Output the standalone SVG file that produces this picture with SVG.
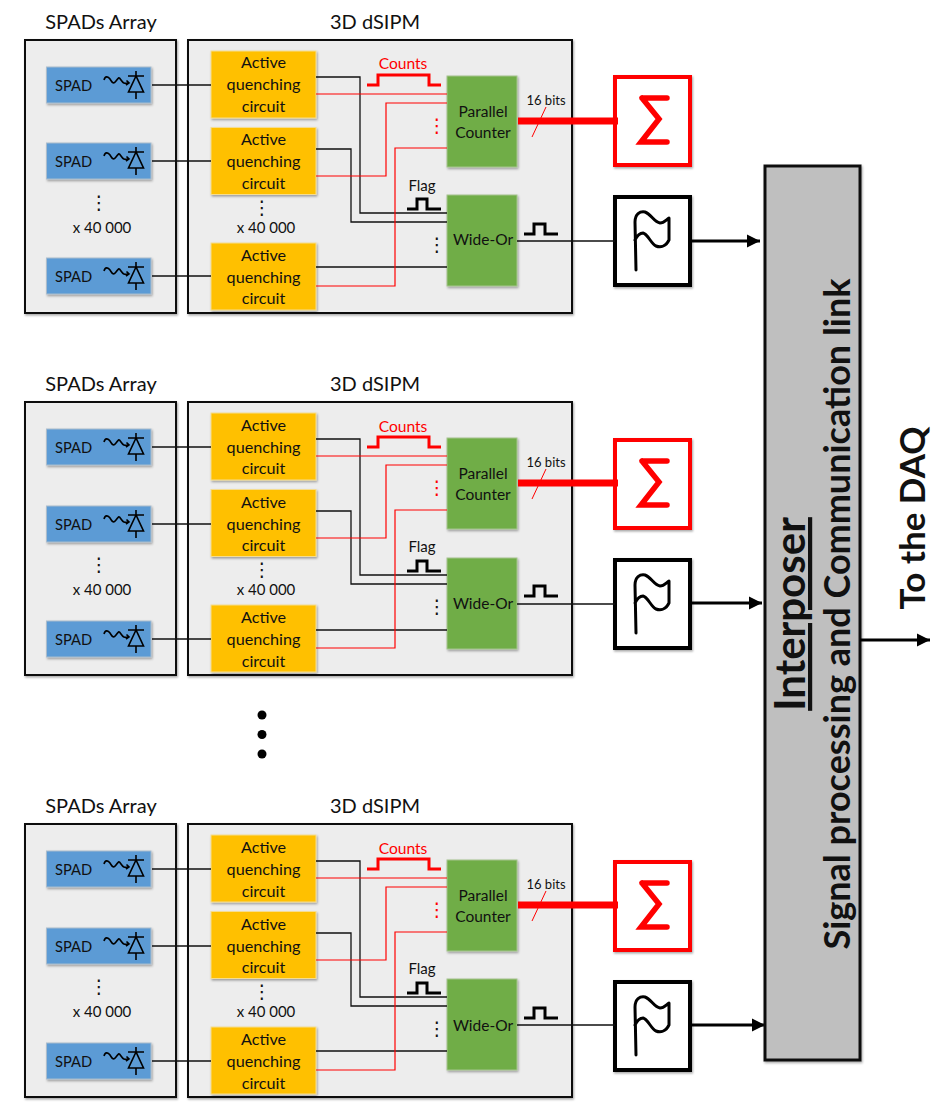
<svg xmlns="http://www.w3.org/2000/svg" width="935" height="1102" viewBox="0 0 935 1102">
<style>
text{font-family:"Lato","Liberation Sans",sans-serif;fill:#111}
.m{text-anchor:middle}
.t{font-size:20px}
.s{font-size:15.500px}
.q{font-size:16.200px}
.x{font-size:15px}
.p{font-size:14.700px}
.c{font-size:15.600px}
.b{font-size:13px}
.dots{font-family:"DejaVu Sans",sans-serif;font-size:19px;text-anchor:middle}
.panel{fill:#ededed;stroke:#111;stroke-width:2;filter:url(#sh)}
.spad{fill:#5b9bd5;stroke:#a9bccd;stroke-width:1;filter:url(#sh)}
.aqc{fill:#ffc000;stroke:#f5dd90;stroke-width:1;filter:url(#sh)}
.grn{fill:#70ad47;stroke:#a5c48e;stroke-width:1;filter:url(#sh)}
.rb{fill:#fff;stroke:#f00;stroke-width:4;filter:url(#sh)}
.kb{fill:#fff;stroke:#000;stroke-width:4;filter:url(#sh)}
.w{fill:none;stroke:#111;stroke-width:1.300}
.r{fill:none;stroke:#f00;stroke-width:1.200}
.pk{fill:none;stroke:#000;stroke-width:3}
.pr{fill:none;stroke:#f00;stroke-width:3}
.ar{fill:none;stroke:#000;stroke-width:3;marker-end:url(#ah)}
.ic{fill:none;stroke:#000;stroke-width:1.600}
</style>
<defs>
<filter id="sh" x="-10%" y="-10%" width="125%" height="125%"><feDropShadow dx="1" dy="1.500" stdDeviation="1.200" flood-color="#000" flood-opacity="0.35"/></filter>
<marker id="ah" markerUnits="userSpaceOnUse" markerWidth="14" markerHeight="14" refX="13" refY="7" orient="auto"><path d="M0 0.500L13 7L0 13.500Z" fill="#000"/></marker>
<g id="ico">
<path class="ic" d="M104 80C105 76 108 76 110 79S113 85 116 81S119 77 121 80S124 84 129 83M126.500 80.500L129 83L126 85"/>
<path class="ic" d="M128 76H144M136 71V76M136 92V99M136 76L128.500 92H143.500Z"/>
</g>
<g id="flagi"><path d="M636 270L635 222C635 214 640 211 645 212C651 214 654 222 660 223C664 223 666 220 669 218L669 240C666 246 661 248 656 246C651 244 648 234 643 233C639 233 637 236 635 240" fill="none" stroke="#000" stroke-width="3" stroke-linecap="round" stroke-linejoin="round"/></g>
<path id="sig" d="M642 98H667M642 98L659 119L641 142H667" fill="none" stroke="#f00" stroke-width="5.500" stroke-linecap="round" stroke-linejoin="miter"/>
</defs>
<rect width="935" height="1102" fill="#fff"/>

<g id="block1">
<text class="t m" x="101" y="29">SPADs Array</text>
<text class="t m" x="375" y="29">3D dSIPM</text>
<g id="b1-spads"><rect class="panel" x="25" y="40" width="151" height="273"/></g>
<g id="b1-dsipm"><rect class="panel" x="188" y="40" width="384" height="273"/></g>
<g id="b1-spad1"><rect class="spad" x="46.500" y="67" width="104.500" height="36"/><text class="p" x="55" y="91">SPAD</text><use href="#ico"/></g>
<g id="b1-spad2"><rect class="spad" x="46.500" y="143" width="104.500" height="36"/><text class="p" x="55" y="167">SPAD</text><use href="#ico" y="76"/></g>
<g id="b1-spad3"><rect class="spad" x="46.500" y="258" width="104.500" height="36"/><text class="p" x="55" y="282">SPAD</text><use href="#ico" y="191"/></g>
<text class="dots" x="99" y="209">⋮</text><text class="x m" x="102" y="233">x 40 000</text>
<g id="b1-aqc1"><rect class="aqc" x="211" y="51" width="105" height="67"/><text class="q m" x="263.500" y="68">Active</text><text class="q m" x="263.500" y="90">quenching</text><text class="q m" x="263.500" y="112">circuit</text></g>
<g id="b1-aqc2"><rect class="aqc" x="211" y="127.500" width="105" height="67"/><text class="q m" x="263.500" y="145">Active</text><text class="q m" x="263.500" y="167">quenching</text><text class="q m" x="263.500" y="189">circuit</text></g>
<g id="b1-aqc3"><rect class="aqc" x="211" y="243" width="105" height="67"/><text class="q m" x="263.500" y="261">Active</text><text class="q m" x="263.500" y="283">quenching</text><text class="q m" x="263.500" y="304">circuit</text></g>
<text class="dots" x="262" y="214">⋮</text><text class="x m" x="266" y="233">x 40 000</text>
<g id="b1-counter"><rect class="grn" x="447" y="76" width="70" height="91"/><text class="s m" x="483" y="117">Parallel</text><text class="s m" x="483" y="138">Counter</text></g>
<g id="b1-wideor"><rect class="grn" x="447" y="195" width="70" height="91"/><text class="s m" x="483" y="245">Wide-Or</text></g>
<g id="b1-sigma"><rect class="rb" x="615" y="77" width="75" height="88"/><use href="#sig"/></g>
<g id="b1-flag"><rect class="kb" x="615" y="197" width="75" height="88"/><use href="#flagi"/></g>
<g id="b1-connectors">
<path class="w" d="M152 85H211M152 161H211M152 276H211"/>
<path class="w" d="M316 77H360V213H447M316 149H351V222H447M316 267H447M517 241H615"/>
<path class="r" d="M316 94H447M316 176H386V103H447M316 286H395V148H447"/>
<path d="M518 121H618" fill="none" stroke="#f00" stroke-width="7"/>
<path d="M532 137L546 107" fill="none" stroke="#f00" stroke-width="1"/>
<path class="pr" d="M367 85H378V75H429V85H441"/>
<path class="pk" d="M407 209H417V199H427V209H441"/>
<path class="pk" d="M524 234H534V224H545V234H558"/>
<path class="ar" d="M690 241H760"/>
</g>
<text class="c m" x="403" y="69" style="fill:#f00">Counts</text>
<text class="x m" x="422" y="191">Flag</text>
<text class="b m" x="546" y="105">16 bits</text>
<text class="dots" x="437" y="132" style="fill:#f00">⋮</text>
<text class="dots" x="437" y="251">⋮</text>
</g>

<g id="block2" transform="translate(0 362)">
<text class="t m" x="101" y="29">SPADs Array</text>
<text class="t m" x="375" y="29">3D dSIPM</text>
<g id="b2-spads"><rect class="panel" x="25" y="40" width="151" height="273"/></g>
<g id="b2-dsipm"><rect class="panel" x="188" y="40" width="384" height="273"/></g>
<g id="b2-spad1"><rect class="spad" x="46.500" y="67" width="104.500" height="36"/><text class="p" x="55" y="91">SPAD</text><use href="#ico"/></g>
<g id="b2-spad2"><rect class="spad" x="46.500" y="144" width="104.500" height="36"/><text class="p" x="55" y="168">SPAD</text><use href="#ico" y="77"/></g>
<g id="b2-spad3"><rect class="spad" x="46.500" y="259" width="104.500" height="36"/><text class="p" x="55" y="283">SPAD</text><use href="#ico" y="192"/></g>
<text class="dots" x="99" y="209">⋮</text><text class="x m" x="102" y="233">x 40 000</text>
<g id="b2-aqc1"><rect class="aqc" x="211" y="51" width="105" height="67"/><text class="q m" x="263.500" y="69">Active</text><text class="q m" x="263.500" y="91">quenching</text><text class="q m" x="263.500" y="112">circuit</text></g>
<g id="b2-aqc2"><rect class="aqc" x="211" y="127.500" width="105" height="67"/><text class="q m" x="263.500" y="146">Active</text><text class="q m" x="263.500" y="168">quenching</text><text class="q m" x="263.500" y="189">circuit</text></g>
<g id="b2-aqc3"><rect class="aqc" x="211" y="243" width="105" height="67"/><text class="q m" x="263.500" y="261">Active</text><text class="q m" x="263.500" y="283">quenching</text><text class="q m" x="263.500" y="305">circuit</text></g>
<text class="dots" x="262" y="214">⋮</text><text class="x m" x="266" y="233">x 40 000</text>
<g id="b2-counter"><rect class="grn" x="447" y="76" width="70" height="91"/><text class="s m" x="483" y="117">Parallel</text><text class="s m" x="483" y="138">Counter</text></g>
<g id="b2-wideor"><rect class="grn" x="447" y="196" width="70" height="91"/><text class="s m" x="483" y="247">Wide-Or</text></g>
<g id="b2-sigma"><rect class="rb" x="615" y="78" width="75" height="88"/><use href="#sig" y="1"/></g>
<g id="b2-flag"><rect class="kb" x="615" y="198" width="75" height="88"/><use href="#flagi" y="1"/></g>
<g id="b2-connectors">
<path class="w" d="M152 85H211M152 162H211M152 277H211"/>
<path class="w" d="M316 77H360V213H447M316 149H351V222H447M316 268H447M517 242H615"/>
<path class="r" d="M316 94H447M316 176H386V103H447M316 286H395V148H447"/>
<path d="M518 121H618" fill="none" stroke="#f00" stroke-width="7"/>
<path d="M532 137L546 107" fill="none" stroke="#f00" stroke-width="1"/>
<path class="pr" d="M367 85H378V75H429V85H441"/>
<path class="pk" d="M407 209H417V199H427V209H441"/>
<path class="pk" d="M524 234H534V224H545V234H558"/>
<path class="ar" d="M690 241H762"/>
</g>
<text class="c m" x="403" y="70" style="fill:#f00">Counts</text>
<text class="x m" x="422" y="190">Flag</text>
<text class="b m" x="546" y="105">16 bits</text>
<text class="dots" x="437" y="132" style="fill:#f00">⋮</text>
<text class="dots" x="437" y="251">⋮</text>
</g>

<g id="block3" transform="translate(0 784)">
<text class="t m" x="101" y="29">SPADs Array</text>
<text class="t m" x="375" y="29">3D dSIPM</text>
<g id="b3-spads"><rect class="panel" x="25" y="40" width="151" height="273"/></g>
<g id="b3-dsipm"><rect class="panel" x="188" y="40" width="384" height="273"/></g>
<g id="b3-spad1"><rect class="spad" x="46.500" y="67" width="104.500" height="36"/><text class="p" x="55" y="91">SPAD</text><use href="#ico"/></g>
<g id="b3-spad2"><rect class="spad" x="46.500" y="144" width="104.500" height="36"/><text class="p" x="55" y="168">SPAD</text><use href="#ico" y="77"/></g>
<g id="b3-spad3"><rect class="spad" x="46.500" y="259" width="104.500" height="36"/><text class="p" x="55" y="283">SPAD</text><use href="#ico" y="192"/></g>
<text class="dots" x="99" y="209">⋮</text><text class="x m" x="102" y="233">x 40 000</text>
<g id="b3-aqc1"><rect class="aqc" x="211" y="51" width="105" height="67"/><text class="q m" x="263.500" y="69">Active</text><text class="q m" x="263.500" y="91">quenching</text><text class="q m" x="263.500" y="113">circuit</text></g>
<g id="b3-aqc2"><rect class="aqc" x="211" y="127.500" width="105" height="67"/><text class="q m" x="263.500" y="146">Active</text><text class="q m" x="263.500" y="168">quenching</text><text class="q m" x="263.500" y="189">circuit</text></g>
<g id="b3-aqc3"><rect class="aqc" x="211" y="243" width="105" height="67"/><text class="q m" x="263.500" y="261">Active</text><text class="q m" x="263.500" y="283">quenching</text><text class="q m" x="263.500" y="305">circuit</text></g>
<text class="dots" x="262" y="214">⋮</text><text class="x m" x="266" y="233">x 40 000</text>
<g id="b3-counter"><rect class="grn" x="447" y="76" width="70" height="91"/><text class="s m" x="483" y="117">Parallel</text><text class="s m" x="483" y="138">Counter</text></g>
<g id="b3-wideor"><rect class="grn" x="447" y="195" width="70" height="91"/><text class="s m" x="483" y="247">Wide-Or</text></g>
<g id="b3-sigma"><rect class="rb" x="615" y="78" width="75" height="88"/><use href="#sig" y="1"/></g>
<g id="b3-flag"><rect class="kb" x="615" y="198" width="75" height="88"/><use href="#flagi" y="1"/></g>
<g id="b3-connectors">
<path class="w" d="M152 85H211M152 162H211M152 277H211"/>
<path class="w" d="M316 77H360V213H447M316 149H351V222H447M316 267H447M517 241H615"/>
<path class="r" d="M316 94H447M316 176H386V103H447M316 286H395V148H447"/>
<path d="M518 121H618" fill="none" stroke="#f00" stroke-width="7"/>
<path d="M532 137L546 107" fill="none" stroke="#f00" stroke-width="1"/>
<path class="pr" d="M367 85H378V75H429V85H441"/>
<path class="pk" d="M407 209H417V199H427V209H441"/>
<path class="pk" d="M524 234H534V224H545V234H558"/>
<path class="ar" d="M690 241H765"/>
</g>
<text class="c m" x="403" y="70" style="fill:#f00">Counts</text>
<text class="x m" x="422" y="190">Flag</text>
<text class="b m" x="546" y="105">16 bits</text>
<text class="dots" x="437" y="132" style="fill:#f00">⋮</text>
<text class="dots" x="437" y="251">⋮</text>
</g>

<g id="ellipsis"><circle cx="262" cy="715" r="4.500" fill="#000"/><circle cx="262" cy="734.500" r="4.500" fill="#000"/><circle cx="262" cy="754" r="4.500" fill="#000"/></g>

<g id="interposer">
<rect x="765" y="166" width="95" height="894" fill="#bfbfbf" stroke="#111" stroke-width="3" filter="url(#sh)"/>
<text class="m" transform="translate(805 614) rotate(-90)" font-size="42" font-weight="700" text-decoration="underline">Interposer</text>
<text class="m" transform="translate(850 614) rotate(-90)" font-size="36" font-weight="700">Signal processing and Communication link</text>
</g>
<g id="daq-connector"><path class="ar" d="M860 640H930"/></g>
<text class="m" transform="translate(925 518) rotate(-90)" font-size="35" font-weight="700">To the DAQ</text>
</svg>
